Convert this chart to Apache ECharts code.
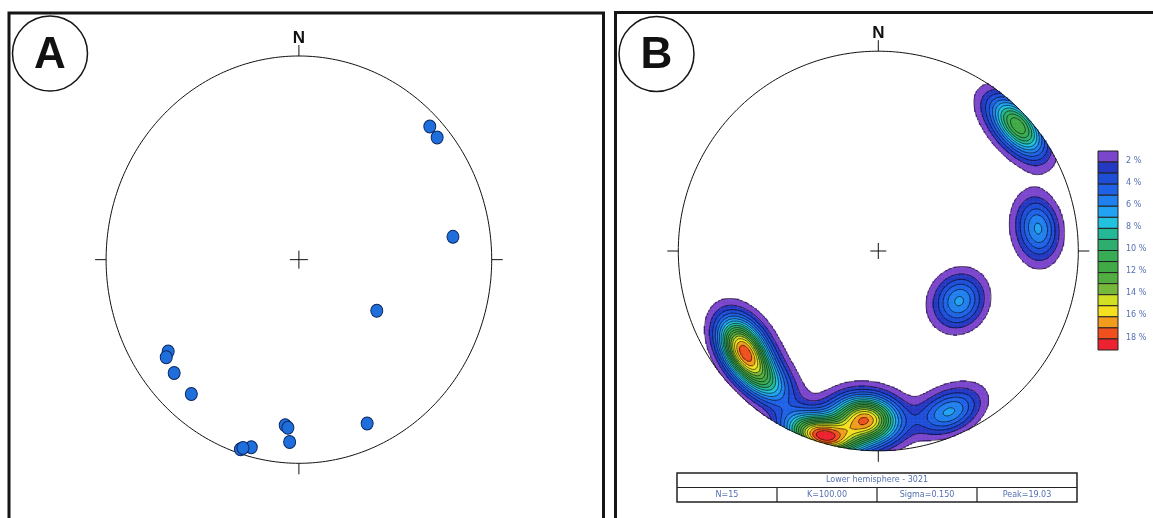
<!DOCTYPE html>
<html><head><meta charset="utf-8">
<script src="https://cdn.jsdelivr.net/npm/echarts@6/dist/echarts.min.js"></script>
<style>html,body{margin:0;padding:0;background:#fff}#c{width:1153px;height:518px}</style>
</head><body><div id="c"></div>
<script>
// Poles, in normalised equal-area net coordinates (east, north), primitive radius = 1
const poleEast  = [0.679, 0.717, 0.799, 0.404, -0.678, -0.688, -0.647, -0.558, 0.354, -0.071, -0.057, -0.048, -0.303, -0.247, -0.290];
const poleNorth = [0.654, 0.600, 0.112, -0.251, -0.451, -0.479, -0.557, -0.660, -0.805, -0.813, -0.825, -0.895, -0.931, -0.921, -0.925];
// Contour levels (% of total per 1% area) and their fill colours
const contourLevels = [1, 2, 3, 4, 5, 6, 7, 8, 9, 10, 11, 12, 13, 14, 15, 16, 17, 18];
const levelColors = ['#7B46CC', '#2438C2', '#1E4ED8', '#1F62E6', '#2080EE', '#22A2F2', '#22C2DE', '#24B896',
                     '#2EAE6E', '#38AC54', '#40AA46', '#52AE40', '#76B83A', '#D2E024', '#F4E01E', '#F29C1E', '#F0501E', '#EC2230'];
const legendLabels = ['2 %', '4 %', '6 %', '8 %', '10 %', '12 %', '14 %', '16 %', '18 %'];
const tableTitle = 'Lower hemisphere - 3021';
const tableCells = ['N=15', 'K=100.00', 'Sigma=0.150', 'Peak=19.03'];
const peakDensity = 19.03;
const kernelK = 66;

// ---------- density on the lower-hemisphere equal-area net ----------
const NG = 250, STEP = 2 / NG;
function toVec(x, y) {
  const r = Math.hypot(x, y);
  if (r < 1e-9) return [0, 0, -1];
  const th = 2 * Math.asin(Math.min(1, r / Math.SQRT2));
  const s = Math.sin(th);
  return [s * x / r, s * y / r, -Math.cos(th)];
}
const poleVecs = poleEast.map((e, k) => toVec(e, poleNorth[k]));
const cellX = i => -1 + (i + 0.5) * STEP;
const G = [];
let gmax = 0;
for (let i = 0; i < NG; i++) {
  G.push(new Float64Array(NG));
  for (let j = 0; j < NG; j++) {
    const x = cellX(i), y = cellX(j);
    if (Math.hypot(x, y) > 1.2) continue;
    const v = toVec(x, y);
    let d = 0;
    for (const p of poleVecs) d += Math.exp(kernelK * (v[0] * p[0] + v[1] * p[1] + v[2] * p[2] - 1));
    G[i][j] = d;
    if (d > gmax) gmax = d;
  }
}
const scale = peakDensity / gmax;
for (let i = 0; i < NG; i++) for (let j = 0; j < NG; j++) G[i][j] *= scale;

const heatData = [];
for (let i = 0; i < NG; i++) for (let j = 0; j < NG; j++) {
  if (Math.hypot(cellX(i), cellX(j)) <= 1.0 && G[i][j] >= contourLevels[0]) heatData.push([i, j, G[i][j]]);
}
const cats = Array.from({length: NG}, (_, k) => String(k));

// marching squares -> contour segments in data coordinates
const caseSegs = {1:[[3,0]],2:[[0,1]],3:[[3,1]],4:[[1,2]],5:[[3,0],[1,2]],6:[[0,2]],7:[[3,2]],8:[[2,3]],
                  9:[[0,2]],10:[[0,1],[2,3]],11:[[1,2]],12:[[1,3]],13:[[0,1]],14:[[0,3]]};
const segs = [];
for (const L of contourLevels) {
  for (let i = 0; i < NG - 1; i++) for (let j = 0; j < NG - 1; j++) {
    const v0 = G[i][j], v1 = G[i + 1][j], v2 = G[i + 1][j + 1], v3 = G[i][j + 1];
    const idx = (v0 >= L ? 1 : 0) | (v1 >= L ? 2 : 0) | (v2 >= L ? 4 : 0) | (v3 >= L ? 8 : 0);
    if (idx === 0 || idx === 15) continue;
    const edge = e => {
      if (e === 0) return [i + (L - v0) / (v1 - v0), j];
      if (e === 1) return [i + 1, j + (L - v1) / (v2 - v1)];
      if (e === 2) return [i + (L - v3) / (v2 - v3), j + 1];
      return [i, j + (L - v0) / (v3 - v0)];
    };
    for (const [a, b] of caseSegs[idx]) {
      const pa = edge(a), pb = edge(b);
      const A = [cellX(pa[0]), cellX(pa[1])], B = [cellX(pb[0]), cellX(pb[1])];
      if (Math.hypot((A[0] + B[0]) / 2, (A[1] + B[1]) / 2) > 1.0) continue;
      segs.push({coords: [A, B]});
    }
  }
}

// ---------- stereonet frame (primitive circle, ticks, centre cross, N) ----------
function frameItem(tick, cross) {
  return function (params, api) {
    const c = api.coord([0, 0]);
    const e = api.coord([1, 0]), n = api.coord([0, 1]);
    const rx = e[0] - c[0], ry = c[1] - n[1];
    const pts = [];
    for (let k = 0; k <= 360; k++) { const t = k * Math.PI / 180; pts.push(api.coord([Math.cos(t), Math.sin(t)])); }
    const st = {stroke: '#111', lineWidth: 1, fill: 'none'};
    const ln = (x1, y1, x2, y2) => ({type: 'line', shape: {x1, y1, x2, y2}, style: st});
    return {type: 'group', children: [
      {type: 'polyline', shape: {points: pts}, style: st},
      ln(c[0], c[1] - ry - tick, c[0], c[1] - ry),
      ln(c[0], c[1] + ry, c[0], c[1] + ry + tick),
      ln(c[0] - rx - tick, c[1], c[0] - rx, c[1]),
      ln(c[0] + rx, c[1], c[0] + rx + tick, c[1]),
      ln(c[0] - cross, c[1], c[0] + cross, c[1]),
      ln(c[0], c[1] - cross, c[0], c[1] + cross),
      {type: 'text', style: {text: 'N', x: c[0], y: c[1] - ry - tick - 7, align: 'center', verticalAlign: 'middle',
        font: 'bold 17px "Liberation Sans", Arial, sans-serif', fill: '#111'}}
    ]};
  };
}

// ---------- decorations ----------
const graphics = [];
graphics.push({type: 'rect', shape: {x: 9, y: 13, width: 594.5, height: 540}, style: {fill: 'none', stroke: '#151515', lineWidth: 3}});
graphics.push({type: 'rect', shape: {x: 615.5, y: 12.5, width: 560, height: 540}, style: {fill: 'none', stroke: '#151515', lineWidth: 3}});
[['A', 50, 53.5], ['B', 656.5, 54]].forEach(([t, x, y]) => {
  graphics.push({type: 'circle', shape: {cx: x, cy: y, r: 37.5}, style: {fill: '#fff', stroke: '#151515', lineWidth: 1.5}});
  graphics.push({type: 'text', x: x, y: y + 2, style: {text: t, align: 'center', verticalAlign: 'middle',
    font: 'bold 44px "Liberation Sans", Arial, sans-serif', fill: '#111'}});
});
// colour legend
const LG_TOP = 151, LG_H = 199 / levelColors.length;
levelColors.forEach((col, k) => {
  graphics.push({type: 'rect', shape: {x: 1098, y: LG_TOP + k * LG_H, width: 20, height: LG_H},
    style: {fill: col, stroke: '#222', lineWidth: 1}});
});
legendLabels.forEach((t, k) => {
  graphics.push({type: 'text', x: 1126, y: LG_TOP + (2 * k + 1) * LG_H - 1.5,
    style: {text: t, align: 'left', verticalAlign: 'middle', font: '8px "DejaVu Sans", sans-serif', fill: '#5470b0'}});
});
// info table
const TX = 677, TW = 400, TY = 473, RH = 14.5;
graphics.push({type: 'rect', shape: {x: TX, y: TY, width: TW, height: 2 * RH}, style: {fill: '#fff', stroke: '#222', lineWidth: 1.5}});
graphics.push({type: 'line', shape: {x1: TX, y1: TY + RH, x2: TX + TW, y2: TY + RH}, style: {stroke: '#222', lineWidth: 1.2}});
graphics.push({type: 'text', x: TX + TW / 2, y: TY + RH / 2, style: {text: tableTitle, align: 'center', verticalAlign: 'middle',
  font: '8px "DejaVu Sans", sans-serif', fill: '#5470b0'}});
tableCells.forEach((t, k) => {
  const cw = TW / tableCells.length;
  if (k > 0) graphics.push({type: 'line', shape: {x1: TX + k * cw, y1: TY + RH, x2: TX + k * cw, y2: TY + 2 * RH}, style: {stroke: '#222', lineWidth: 1.2}});
  graphics.push({type: 'text', x: TX + (k + 0.5) * cw, y: TY + 1.5 * RH, style: {text: t, align: 'center', verticalAlign: 'middle',
    font: '8px "DejaVu Sans", sans-serif', fill: '#5470b0'}});
});

const gridA = {left: 106.1, top: 56, width: 385.6, height: 407.3};
const gridB = {left: 678.3, top: 51.2, width: 400, height: 399.6};
const va = gi => ({type: 'value', gridIndex: gi, min: -1, max: 1, show: false});
const ca = gi => ({type: 'category', gridIndex: gi, data: cats, show: false, boundaryGap: true});

const chart = echarts.init(document.getElementById('c'), null, {renderer: 'canvas'});
chart.setOption({
  animation: false,
  backgroundColor: '#ffffff',
  grid: [gridA, gridB, Object.assign({}, gridB)],
  xAxis: [va(0), va(1), ca(2)],
  yAxis: [va(0), va(1), ca(2)],
  visualMap: {
    type: 'piecewise', show: false, seriesIndex: 2, dimension: 2,
    pieces: contourLevels.map((L, k) => k === contourLevels.length - 1
      ? {gte: L, color: levelColors[k]} : {gte: L, lt: contourLevels[k + 1], color: levelColors[k]})
  },
  graphic: graphics,
  series: [
    {type: 'custom', coordinateSystem: 'cartesian2d', xAxisIndex: 0, yAxisIndex: 0, data: [[0, 0]],
     renderItem: frameItem(11, 9), silent: true, clip: false, z: 2},
    {type: 'scatter', xAxisIndex: 0, yAxisIndex: 0, data: poleEast.map((e, k) => [e, poleNorth[k]]),
     symbol: 'circle', symbolSize: [12, 13], silent: true, z: 3,
     itemStyle: {color: '#1E6FDC', borderColor: '#0B2560', borderWidth: 1, opacity: 1}},
    {type: 'heatmap', xAxisIndex: 2, yAxisIndex: 2, data: heatData, progressive: 0, silent: true, z: 1,
     emphasis: {disabled: true}},
    {type: 'lines', coordinateSystem: 'cartesian2d', xAxisIndex: 1, yAxisIndex: 1, data: segs, large: true,
     largeThreshold: 100, polyline: false, silent: true, z: 2,
     lineStyle: {color: '#000', width: 0.7, opacity: 0.85}},
    {type: 'custom', coordinateSystem: 'cartesian2d', xAxisIndex: 1, yAxisIndex: 1, data: [[0, 0]],
     renderItem: frameItem(11, 8), silent: true, clip: false, z: 4}
  ]
});
</script>
</body></html>
